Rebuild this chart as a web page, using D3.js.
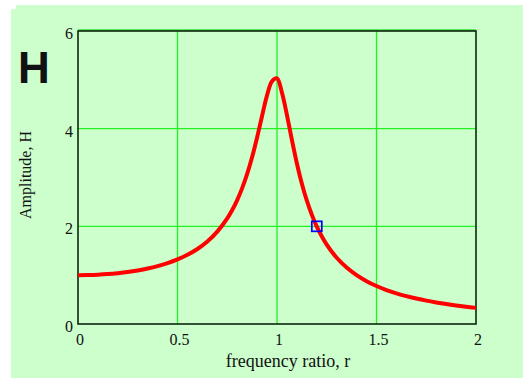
<!DOCTYPE html>
<html>
<head>
<meta charset="utf-8">
<script src="https://cdn.jsdelivr.net/npm/d3@7"></script>
<style>
  body { margin: 0; background: #fff; }
  svg text { font-family: "Liberation Serif", "Times New Roman", serif; fill: #111; }
</style>
</head>
<body>
<svg id="chart" width="523" height="379"></svg>
<script>
// frequency ratio r and amplitude H
const ratios = [0, 0.05, 0.1, 0.15, 0.2, 0.25, 0.3, 0.35, 0.4, 0.45, 0.5, 0.55, 0.6, 0.65, 0.7, 0.75, 0.775, 0.8, 0.825, 0.85, 0.875, 0.9, 0.925, 0.95, 0.975, 1.0,
    1.025, 1.05, 1.075, 1.1, 1.125, 1.15, 1.175, 1.2, 1.25, 1.3, 1.35, 1.4, 1.45, 1.5, 1.55, 1.6, 1.65, 1.7, 1.75, 1.8, 1.85, 1.9, 1.95, 2.0];
const amplitudes = [1.0, 1.003, 1.01, 1.022, 1.041, 1.065, 1.097, 1.136, 1.185, 1.246, 1.322, 1.416, 1.536, 1.689, 1.891, 2.162, 2.334, 2.538, 2.782, 3.073, 3.419, 3.821, 4.261, 4.683, 4.971, 5.03,
    4.736, 4.279, 3.768, 3.288, 2.873, 2.525, 2.236, 1.995, 1.625, 1.356, 1.155, 1.0, 0.877, 0.778, 0.696, 0.628, 0.570, 0.521, 0.478, 0.441, 0.408, 0.379, 0.353, 0.330];
const marker = [1.2, 2.0];
const xTicks = [0, 0.5, 1, 1.5, 2];
const yTicks = [0, 2, 4, 6];

const svg = d3.select('#chart');

// light green panel, with the small notch at its top-left corner
svg.append('path')
    .attr('d', 'M16,5 H523 V378 H11 V9 H16 Z')
    .attr('fill', '#ccffcc');

const x = d3.scaleLinear().domain([0, 2]).range([78, 476]);
const y = d3.scaleLinear().domain([0, 6]).range([324, 31]);

// grid
let grid = svg.append('g').attr('class', 'grid');
grid.selectAll('line.gx')
    .data(xTicks.slice(1, -1))
    .enter()
    .append('line')
    .attr('x1', d => x(d)).attr('x2', d => x(d))
    .attr('y1', y(6)).attr('y2', y(0))
    .attr('stroke', '#22f022')
    .attr('stroke-width', 1.3);
grid.selectAll('line.gy')
    .data(yTicks.slice(1, -1))
    .enter()
    .append('line')
    .attr('x1', x(0)).attr('x2', x(2))
    .attr('y1', d => y(d)).attr('y2', d => y(d))
    .attr('stroke', '#22f022')
    .attr('stroke-width', 1.3);

// frame
svg.append('line')
    .attr('x1', x(0)).attr('x2', x(2))
    .attr('y1', y(6) - 1).attr('y2', y(6) - 1)
    .attr('stroke', '#33dd33').attr('stroke-width', 1.5);
svg.append('rect')
    .attr('x', x(0)).attr('y', y(6))
    .attr('width', x(2) - x(0)).attr('height', y(0) - y(6))
    .attr('fill', 'none')
    .attr('stroke', '#0d260d')
    .attr('stroke-width', 1.6);

// curve
const line = d3.line()
    .x(d => x(d[0]))
    .y(d => y(d[1]))
    .curve(d3.curveCatmullRom.alpha(0.5));

svg.append('path')
    .datum(ratios.map((r, i) => [r, amplitudes[i]]))
    .attr('fill', 'none')
    .attr('stroke', '#ff0000')
    .attr('stroke-width', 4)
    .attr('stroke-linejoin', 'round')
    .attr('d', line);

// marker
svg.append('rect')
    .attr('x', x(marker[0]) - 5)
    .attr('y', y(marker[1]) - 5)
    .attr('width', 10).attr('height', 10)
    .attr('fill', 'none')
    .attr('stroke', '#0000ff')
    .attr('stroke-width', 1.7);

// tick labels
svg.append('g')
    .selectAll('text')
    .data(xTicks)
    .enter()
    .append('text')
    .attr('x', d => x(d) + 2)
    .attr('y', 345)
    .attr('text-anchor', 'middle')
    .attr('font-size', 16)
    .text(d => d);

svg.append('g')
    .selectAll('text')
    .data(yTicks)
    .enter()
    .append('text')
    .attr('x', 73)
    .attr('y', d => y(d) + 8)
    .attr('text-anchor', 'end')
    .attr('font-size', 16)
    .text(d => d);

// axis titles
svg.append('text')
    .attr('x', 288)
    .attr('y', 367)
    .attr('text-anchor', 'middle')
    .attr('font-size', 18)
    .text('frequency ratio, r');

svg.append('text')
    .attr('transform', 'translate(31,175) rotate(-90)')
    .attr('text-anchor', 'middle')
    .attr('font-size', 16)
    .text('Amplitude, H');

svg.append('text')
    .attr('x', 18)
    .attr('y', 83)
    .style('font-family', '"Liberation Sans", Arial, sans-serif')
    .attr('font-weight', 'bold')
    .attr('font-size', 44)
    .text('H');
</script>
</body>
</html>
